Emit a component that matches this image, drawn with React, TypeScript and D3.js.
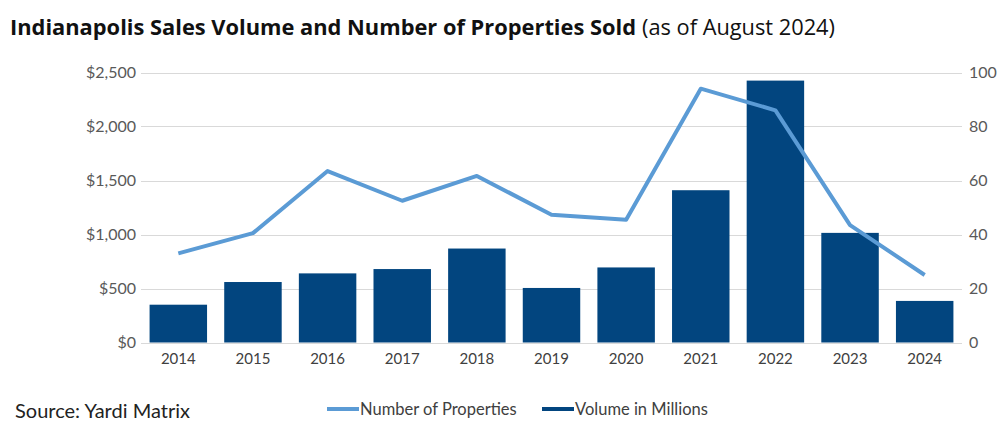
import React, { useEffect, useRef } from 'react';
import * as d3 from 'd3';

const years: string[] = ['2014', '2015', '2016', '2017', '2018', '2019', '2020', '2021', '2022', '2023', '2024'];
const volumeMillions: number[] = [350, 560, 640, 680, 870, 505, 695, 1410, 2425, 1015, 385];
const propertiesSold: number[] = [33, 40.5, 63.5, 52.5, 61.7, 47.3, 45.5, 94, 86, 43.5, 25];
const leftTicks: number[] = [0, 500, 1000, 1500, 2000, 2500];
const rightTicks: number[] = [0, 20, 40, 60, 80, 100];

const WIDTH = 1007;
const HEIGHT = 433;
const FONT = "Lato, 'Open Sans', sans-serif";
const TITLE_FONT = "'Open Sans', Lato, sans-serif";

export default function App() {
	const ref = useRef<SVGSVGElement | null>(null);

	useEffect(() => {
		const svg = d3.select(ref.current);
		svg.selectAll('*').remove();

		const margin = { top: 72.5, right: 45, bottom: 90.5, left: 141 };
		const x0 = margin.left;
		const x1 = WIDTH - margin.right;
		const yTop = margin.top;
		const yBottom = HEIGHT - margin.bottom;

		const x = d3.scaleBand<string>()
			.domain(years)
			.range([x0, x1])
			.paddingInner(0.23)
			.paddingOuter(0.115);

		const yLeft = d3.scaleLinear().domain([0, 2500]).range([yBottom, yTop]);
		const yRight = d3.scaleLinear().domain([0, 100]).range([yBottom, yTop]);

		// title
		const title = svg.append('text')
			.attr('x', 10)
			.attr('y', 35)
			.style('font-family', TITLE_FONT)
			.style('fill', '#111');
		title.append('tspan').style('font-weight', 'bold').style('font-size', '21.5px')
			.attr('textLength', 626).attr('lengthAdjust', 'spacingAndGlyphs')
			.text('Indianapolis Sales Volume and Number of Properties Sold');
		title.append('tspan').style('font-weight', 'normal').style('font-size', '21px')
			.attr('x', 642)
			.attr('textLength', 193).attr('lengthAdjust', 'spacingAndGlyphs')
			.text('(as of August 2024)');

		// gridlines
		svg.append('g')
			.selectAll('line')
			.data(leftTicks)
			.join('line')
			.attr('x1', x0)
			.attr('x2', x1)
			.attr('y1', d => Math.round(yLeft(d)) + 0.5)
			.attr('y2', d => Math.round(yLeft(d)) + 0.5)
			.style('stroke', '#d9d9d9')
			.style('stroke-width', 1);

		// left axis labels
		svg.append('g')
			.selectAll('text')
			.data(leftTicks)
			.join('text')
			.attr('x', x0 - 5)
			.attr('y', d => yLeft(d))
			.attr('dy', '0.35em')
			.attr('text-anchor', 'end')
			.style('font-family', FONT)
			.style('font-size', '16px')
			.style('fill', '#595959')
			.text(d => '$' + d3.format(',')(d));

		// right axis labels
		svg.append('g')
			.selectAll('text')
			.data(rightTicks)
			.join('text')
			.attr('x', x1 + 7)
			.attr('y', d => yRight(d))
			.attr('dy', '0.35em')
			.attr('text-anchor', 'start')
			.style('font-family', FONT)
			.style('font-size', '16px')
			.style('fill', '#595959')
			.text(d => String(d));

		// bars
		svg.append('g')
			.selectAll('rect')
			.data(years)
			.join('rect')
			.attr('x', d => x(d) as number)
			.attr('width', x.bandwidth())
			.attr('y', (d, i) => yLeft(volumeMillions[i]))
			.attr('height', (d, i) => yBottom - yLeft(volumeMillions[i]))
			.style('fill', '#02457f');

		// x axis labels
		svg.append('g')
			.selectAll('text')
			.data(years)
			.join('text')
			.attr('x', d => (x(d) as number) + x.bandwidth() / 2)
			.attr('y', yBottom + 21)
			.attr('text-anchor', 'middle')
			.style('font-family', FONT)
			.style('font-size', '15px')
			.style('fill', '#404040')
			.text(d => d);

		// line
		const line = d3.line<number>()
			.x((d, i) => (x(years[i]) as number) + x.bandwidth() / 2)
			.y(d => yRight(d));

		svg.append('path')
			.datum(propertiesSold)
			.attr('fill', 'none')
			.attr('stroke', '#5b9bd5')
			.attr('stroke-width', 4)
			.attr('stroke-linejoin', 'round')
			.attr('d', line);

		// source
		svg.append('text')
			.attr('x', 15)
			.attr('y', 418)
			.style('font-family', FONT)
			.style('font-size', '20px')
			.style('fill', '#222')
			.text('Source: Yardi Matrix');

		// legend
		const legend = [
			{ label: 'Number of Properties', color: '#5b9bd5', x: 327 },
			{ label: 'Volume in Millions', color: '#02457f', x: 542 },
		];
		const lg = svg.append('g');
		legend.forEach(l => {
			lg.append('line')
				.attr('x1', l.x)
				.attr('x2', l.x + 32)
				.attr('y1', 409)
				.attr('y2', 409)
				.style('stroke', l.color)
				.style('stroke-width', 4);
			lg.append('text')
				.attr('x', l.x + 33)
				.attr('y', 415)
				.style('font-family', FONT)
				.style('font-size', '16.5px')
				.style('fill', '#404040')
				.text(l.label);
		});
	}, []);

	return (
		<svg
			ref={ref}
			width={WIDTH}
			height={HEIGHT}
			style={{ position: 'absolute', left: 0, top: 0, background: '#fff' }}
		/>
	);
}
